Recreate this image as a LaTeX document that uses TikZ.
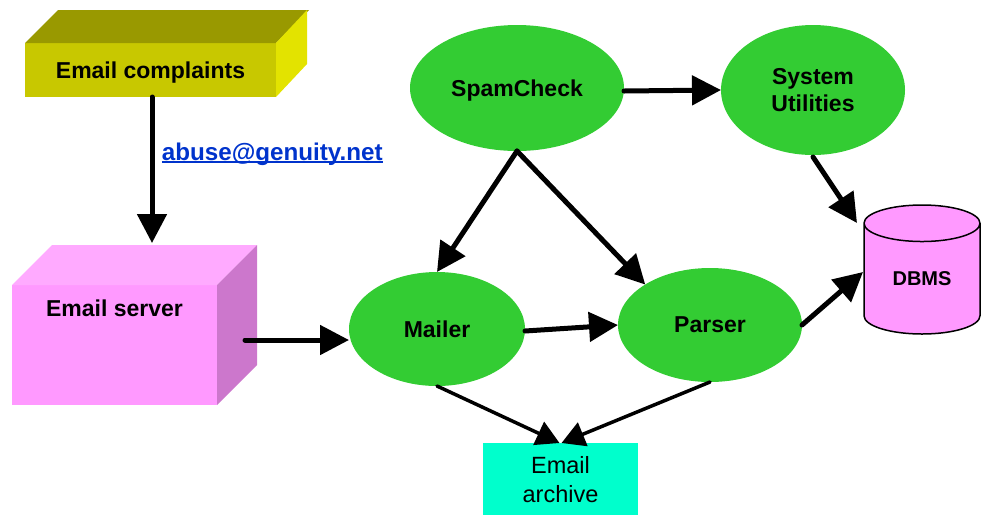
\documentclass[tikz,border=0pt]{standalone}
\usepackage{fontspec}
\setmainfont{Liberation Sans}
\usetikzlibrary{arrows.meta,shapes.geometric,calc}
\definecolor{cfront}{HTML}{C8C800}
\definecolor{ctop}{HTML}{999900}
\definecolor{cside}{HTML}{E3E300}
\definecolor{sfront}{HTML}{FF99FF}
\definecolor{stop}{HTML}{FFAAFF}
\definecolor{sside}{HTML}{CC77CC}
\definecolor{procgreen}{HTML}{33CC33}
\definecolor{archcyan}{HTML}{00FFCC}
\definecolor{linkblue}{HTML}{0033CC}
% thick underline for the mail address
\newcommand{\linkline}[1]{{\setbox0=\hbox{#1}\rlap{\copy0}\rule[-3pt]{\wd0}{2pt}}}
\begin{document}
\begin{tikzpicture}[x=1pt,y=-1pt,line join=round,line cap=round,
    every node/.style={font=\fontsize{23}{27}\selectfont\bfseries},
    proc/.style={ellipse,fill=procgreen,inner sep=0pt,outer sep=0pt,align=center,text depth=0pt},
    face/.style={inner sep=0pt,outer sep=0pt,text depth=0pt},
    big/.style={line width=5pt,-{Triangle[length=29pt,width=29pt]}},
    small/.style={line width=3.5pt,-{Triangle[length=23pt,width=25pt]}}]
    \useasboundingbox (0,0) rectangle (981,515);
    % 3D boxes: front face is the node, top and side are filled after
    \node[face,fill=cfront,minimum width=251pt,minimum height=54pt] (complaints) at (150.5,70) {Email complaints};
    \fill[ctop] (complaints.north west) -- ++(33,-33) -- ++(251,0) -- (complaints.north east) -- cycle;
    \fill[cside] (complaints.north east) -- ++(31,-33) -- ++(0,54) -- (complaints.south east) -- cycle;
    \node[face,fill=sfront,minimum width=205pt,minimum height=120pt] (server) at (114.5,345) {};
    \fill[stop] (server.north west) -- ++(40,-40) -- ++(205,0) -- (server.north east) -- cycle;
    \fill[sside] (server.north east) -- ++(40,-40) -- ++(0,120) -- (server.south east) -- cycle;
    \node at ([yshift=-23pt]server.north) {Email server};
    % processes
    \node[proc,minimum width=214pt,minimum height=126pt] (spam) at (517,88) {SpamCheck};
    \node[proc,minimum width=184pt,minimum height=130pt] (sys) at (813,90) {System\\Utilities};
    \node[proc,minimum width=176pt,minimum height=114pt] (mailer) at (437,329) {Mailer};
    \node[proc,minimum width=184pt,minimum height=114pt] (parser) at (710,325) {Parser};
    \node[cylinder,shape border rotate=90,aspect=0.62,draw,line width=1.5pt,fill=sfront,
        minimum width=116pt,minimum height=129pt,inner sep=0pt,outer sep=0pt,
        font=\fontsize{20}{22}\selectfont\bfseries] (dbms) at (922,279) {DBMS};
    \node[face,fill=archcyan,minimum width=155pt,minimum height=72pt,align=center,
        font=\fontsize{23.5}{29}\selectfont] (archive) at (560.5,479) {Email\\archive};
    % connectors
    \coordinate (srvtop) at ($(complaints.south |- server.north)+(1.5,-42)$);
    \coordinate (srvout) at ($(server.east)+(28,-5)$);
    \draw[big] ([xshift=1.5pt]complaints.south) -- (srvtop)
        node[pos=0.39,right=4pt,text=linkblue,font=\fontsize{24.2}{27}\selectfont\bfseries] {\linkline{abuse@genuity.net}};
    \draw[big] (srvout) -- (srvout -| mailer.west);
    \draw[big] ([yshift=-3pt]spam.east) -- (sys.west);
    \draw[big] (spam.south) -- (mailer.north);
    \draw[big] (spam.south) -- (parser.148);
    \draw[big] ([yshift=-2pt]mailer.east) -- (parser.west);
    \draw[big] ([yshift=-2pt]sys.south) -- ([shift={(-65,-56)}]dbms.center);
    \draw[big] (parser.east) -- ([shift={(-59,-7)}]dbms.center);
    \draw[small] (mailer.south) -- ([xshift=-1pt]archive.north);
    \draw[small] (parser.south) -- ([xshift=1pt]archive.north);
\end{tikzpicture}
\end{document}
